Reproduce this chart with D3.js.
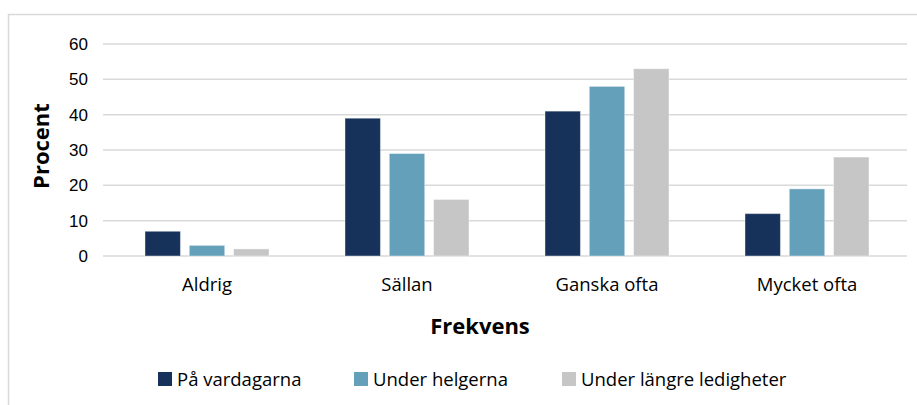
<!DOCTYPE html>
<html><head><meta charset="utf-8">
<script src="https://cdn.jsdelivr.net/npm/d3@7"></script>
<style>body{margin:0;background:#fff;}svg{display:block;font-family:"Open Sans","Liberation Sans",Arial,sans-serif;}</style>
</head><body>
<svg id="c" width="917" height="405"></svg>
<script>
const categories = ["Aldrig", "Sällan", "Ganska ofta", "Mycket ofta"];
const seriesNames = ["På vardagarna", "Under helgerna", "Under längre ledigheter"];
const vardagarna = [7, 39, 41, 12];
const helgerna = [3, 29, 48, 19];
const ledigheter = [2, 16, 53, 28];
const yTicks = [0, 10, 20, 30, 40, 50, 60];
const colors = ["#17325a", "#65a0bb", "#c6c6c6"];
const series = [vardagarna, helgerna, ledigheter];

(function () {
const svg = d3.select("#c");
svg.append("rect").attr("x", 8.5).attr("y", 14.5).attr("width", 930).attr("height", 420)
  .attr("fill", "#fff").attr("stroke", "#d9d9d9").attr("stroke-width", 1.5);

const pLeft = 103, pRight = 907, pTop = 44, pBottom = 256;
const y = d3.scaleLinear().domain([0, 60]).range([pBottom, pTop]);
const x0 = d3.scaleBand().domain(categories).range([105, 909]).paddingInner(0.38).paddingOuter(0.2);
const x1 = d3.scaleBand().domain(d3.range(3)).range([0, x0.bandwidth()]).paddingInner(0.2);

svg.append("g").selectAll("line").data(yTicks).join("line")
  .attr("x1", pLeft).attr("x2", pRight).attr("y1", d => y(d)).attr("y2", d => y(d))
  .attr("stroke", "#d9d9d9").attr("stroke-width", 1.5);

const yAxis = d3.axisLeft(y).tickValues(yTicks).tickSize(0).tickPadding(0);
const gy = svg.append("g").attr("transform", `translate(${88},0)`).call(yAxis);
gy.select(".domain").remove();
gy.selectAll("text").attr("font-size", 17).attr("fill", "#000").attr("font-family", "'Liberation Sans Narrow','Liberation Sans',Arial,sans-serif");

categories.forEach((c, ci) => {
  series.forEach((s, si) => {
    svg.append("rect")
      .attr("x", x0(c) + x1(si)).attr("y", y(s[ci]))
      .attr("width", x1.bandwidth()).attr("height", y(0) - y(s[ci]))
      .attr("fill", colors[si]).attr("stroke", "#ffffff").attr("stroke-opacity", 0.4).attr("stroke-width", 1);
  });
});

const xAxis = d3.axisBottom(x0).tickSize(0).tickPadding(0);
const gx = svg.append("g").attr("transform", `translate(0,${278})`).call(xAxis);
gx.select(".domain").remove();
gx.selectAll("text").attr("font-size", 18.5).attr("fill", "#000").attr("dy", "0.71em").attr("font-family", "'Open Sans','Liberation Sans',sans-serif");

svg.append("text").attr("x", 480).attr("y", 334).attr("text-anchor", "middle")
  .attr("font-size", 22).attr("font-weight", "bold").text("Frekvens");
svg.append("text").attr("transform", "translate(49,146) rotate(-90)").attr("text-anchor", "middle")
  .attr("font-size", 22).attr("font-weight", "bold").text("Procent");

const legX = [158, 354, 562];
seriesNames.forEach((n, i) => {
  svg.append("rect").attr("x", legX[i]).attr("y", 372).attr("width", 14).attr("height", 14).attr("fill", colors[i]);
  svg.append("text").attr("x", legX[i] + 19).attr("y", 386).attr("font-size", 18.5)
    .attr("font-family", "'Open Sans','Liberation Sans',sans-serif").text(n);
});
})();
</script>
</body></html>
